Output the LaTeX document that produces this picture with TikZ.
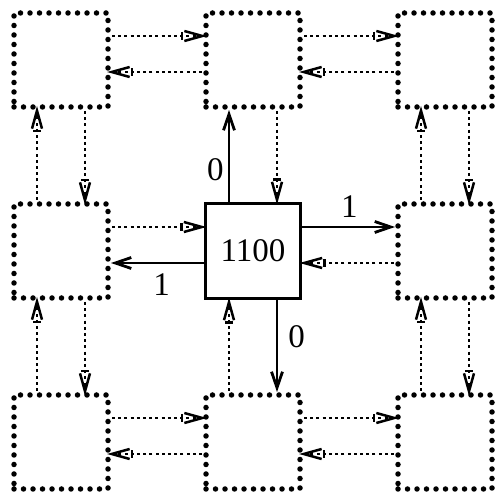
\documentclass[tikz,border=0pt]{standalone}
\usepackage{fontspec}
\setmainfont{Liberation Serif}
\usetikzlibrary{arrows.meta}

\tikzset{
  cell/.style={draw, line width=5.5pt, line cap=round, dash pattern=on 0pt off 9.5pt,
    minimum size=94pt, inner sep=0pt, outer sep=0pt},
  hub/.style={draw, line width=3.8pt, minimum size=95pt, inner sep=0pt, outer sep=0pt,
    font=\fontsize{33}{38}\selectfont},
  link/.style={line width=2.5pt, dash pattern=on 3pt off 3.2pt,
    shorten <=4pt, shorten >=9pt,
    -{Bar[width=8pt] Straight Barb[length=18pt,width=10pt,sep=-10pt]}},
  move/.style={line width=2.8pt, shorten >=3pt, -{Straight Barb[length=16pt,width=11pt]}},
  bit/.style={font=\fontsize{33}{38}\selectfont, inner sep=4pt}
}

\begin{document}
\begin{tikzpicture}[x=1pt,y=1pt]
  \useasboundingbox (0,0) rectangle (497,494);

  % grid of cells, the centre one is the hub
  \foreach \r/\y in {1/434, 2/243, 3/52}
    \foreach \c/\x in {1/61, 2/253, 3/445}
      {\ifnum\r\c=22 \else \node [cell] (n\r\c) at (\x,\y) {}; \fi}
  \node [hub] (n22) at (253,243) {1100};

  % dotted links: right, left, up, down
  \foreach \a/\b in {11/12, 12/13, 21/22, 31/32, 32/33}
    \draw [link] ([yshift=24pt]n\a.east) -- ([yshift=24pt]n\b.west);
  \foreach \a/\b in {12/11, 13/12, 23/22, 32/31, 33/32}
    \draw [link] ([yshift=-12pt]n\a.west) -- ([yshift=-12pt]n\b.east);
  \foreach \a/\b in {21/11, 31/21, 32/22, 23/13, 33/23}
    \draw [link] ([xshift=-24pt]n\a.north) -- ([xshift=-24pt]n\b.south);
  \foreach \a/\b in {11/21, 21/31, 12/22, 13/23, 23/33}
    \draw [link] ([xshift=24pt]n\a.south) -- ([xshift=24pt]n\b.north);

  % moves out of the hub
  \draw [move] ([xshift=-24pt]n22.north) -- node [bit, left, pos=.35] {0} ([xshift=-24pt]n12.south);
  \draw [move] ([yshift=24pt]n22.east) -- node [bit, above, yshift=4pt] {1} ([yshift=24pt]n23.west);
  \draw [move] ([yshift=-12pt]n22.west) -- node [bit, below, pos=.45, yshift=-5pt] {1} ([yshift=-12pt]n21.east);
  \draw [move] ([xshift=24pt]n22.south) -- node [bit, right, pos=.4, xshift=6pt] {0} ([xshift=24pt]n32.north);
\end{tikzpicture}
\end{document}
